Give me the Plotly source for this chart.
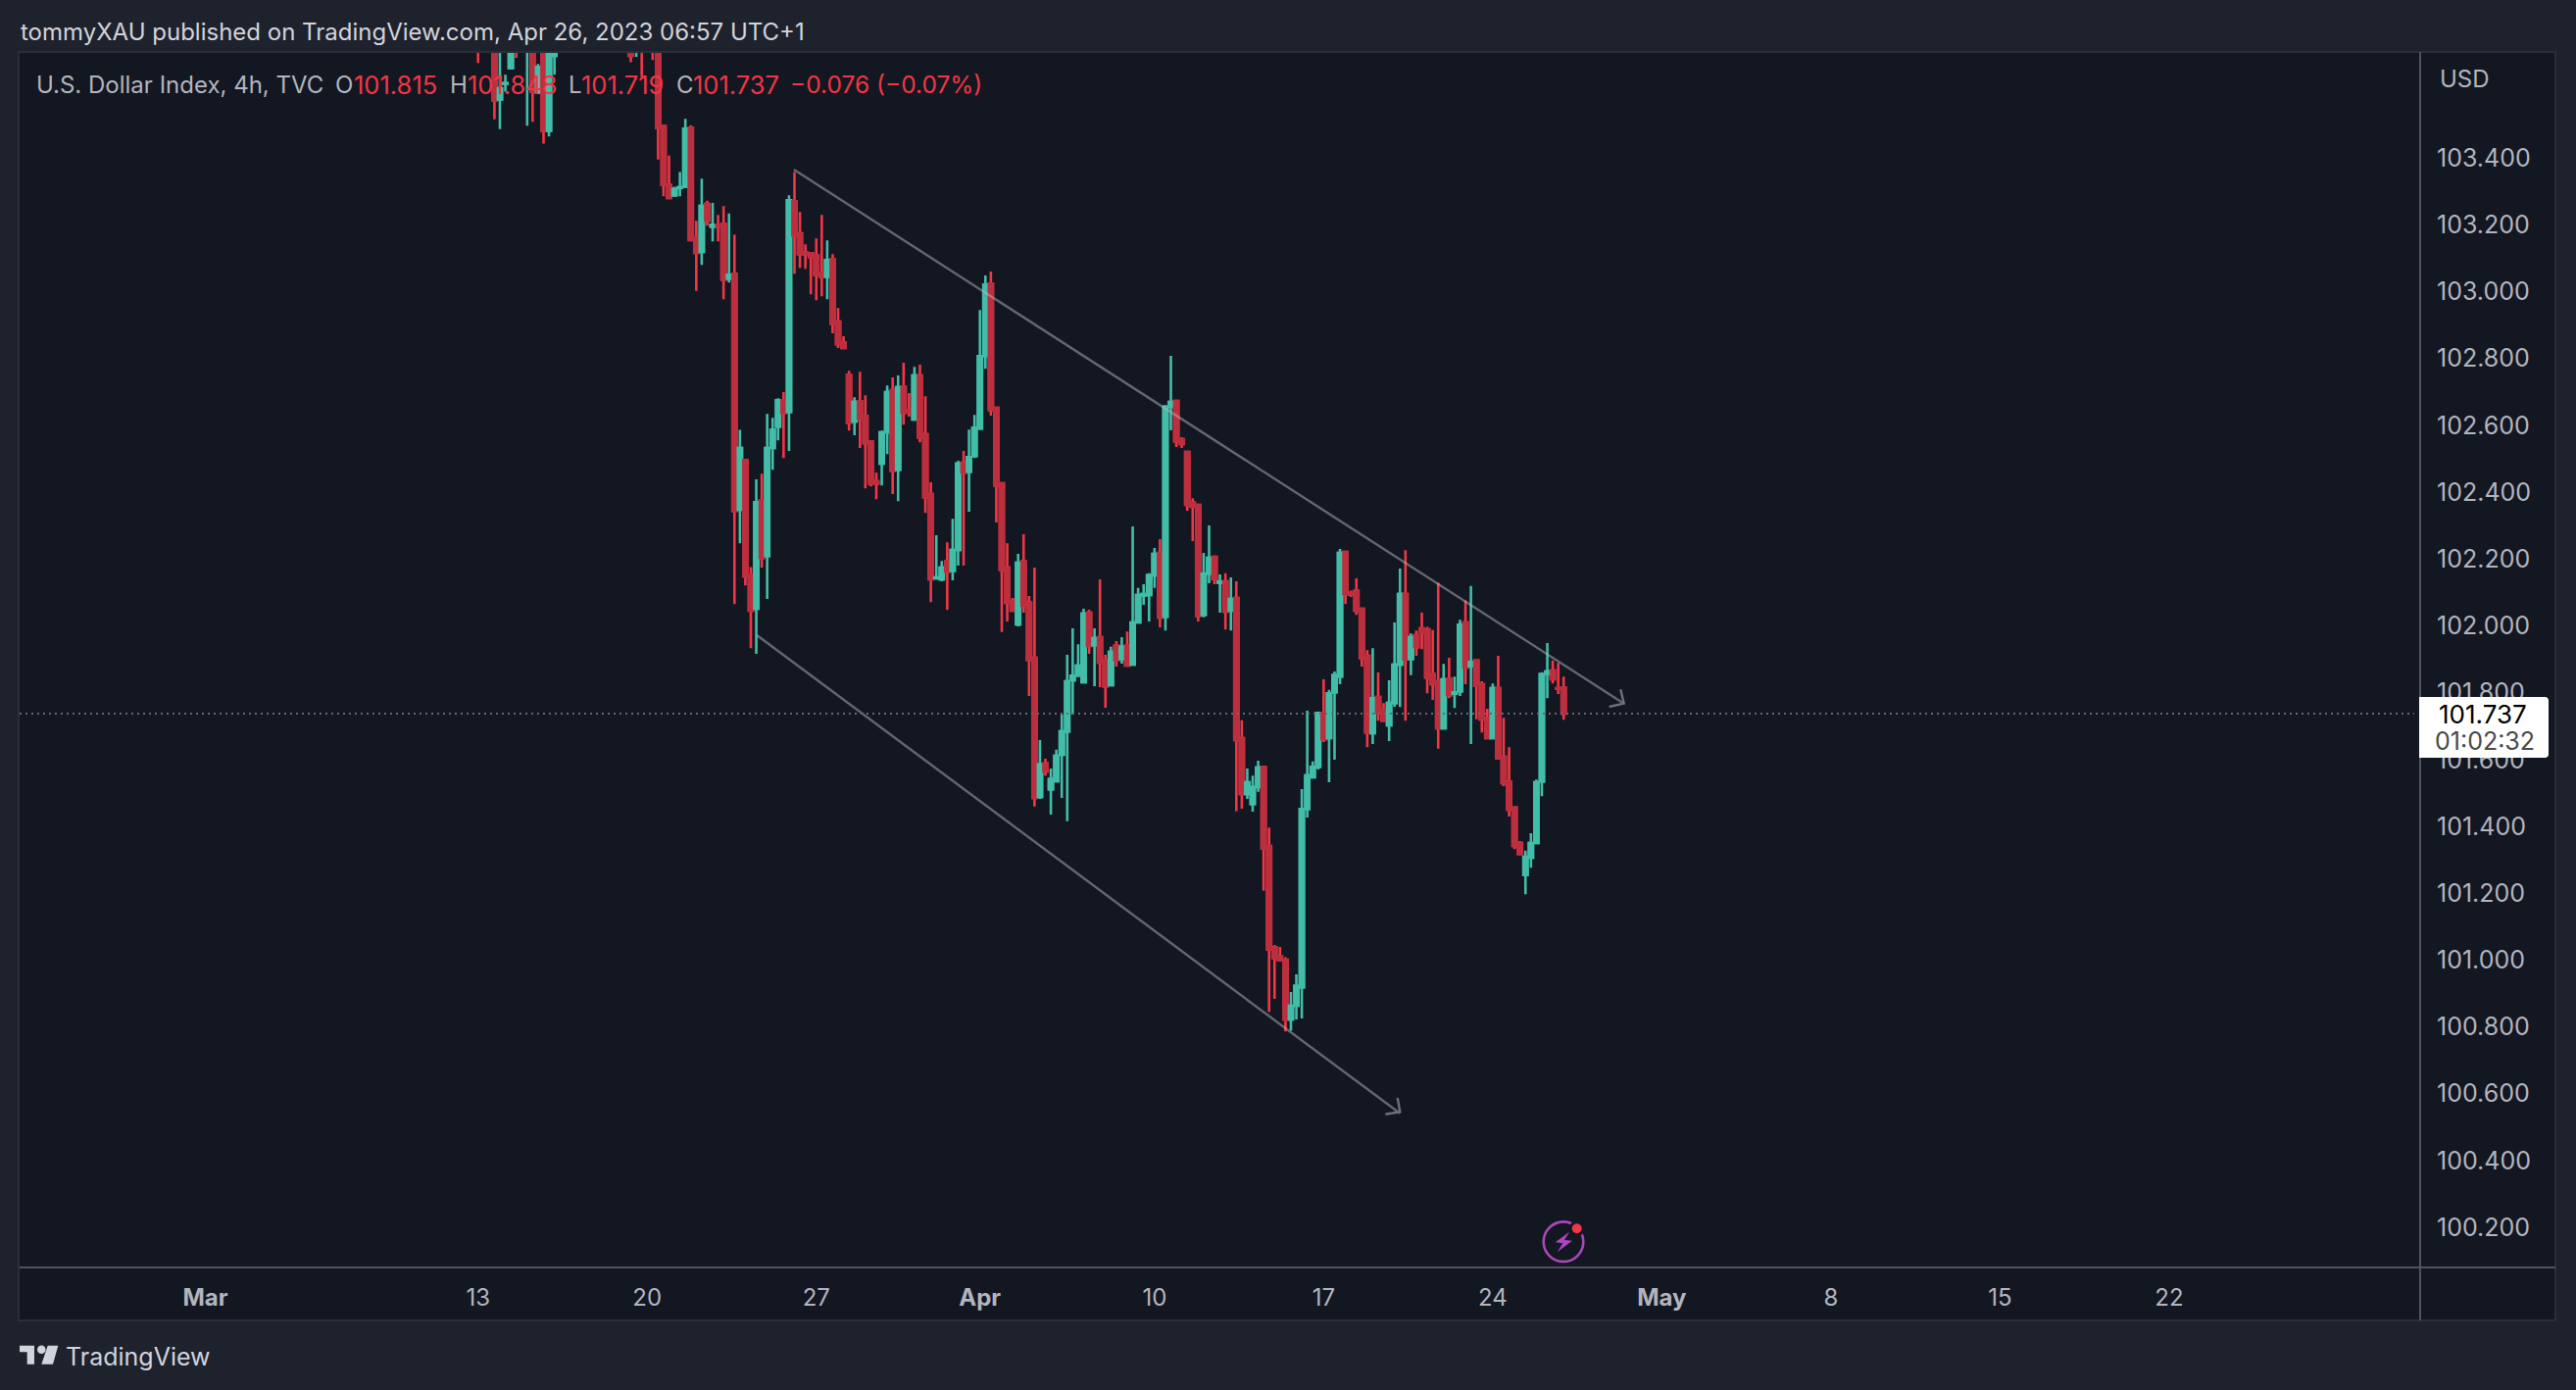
import plotly.graph_objects as go

# 4h bars, index 0 = first bar of Mar 13. None = bar is completely above the visible range
opens = [
    103.82, None, None, 103.78, 103.575, 103.622, 103.669, 103.80, None, 103.74,
    103.78, 103.596, 103.76, 103.481, 103.705, None, None, None, None, None,
    None, None, None, None, None, None, None, None, 103.73, 103.72,
    103.78, None, 103.80, 103.76, 103.495, 103.320, 103.288, 103.310, 103.314, 103.490,
    103.162, 103.119, 103.262, 103.194, 103.200, 103.202, 103.039, 103.053, 102.347, 102.496,
    102.153, 102.051, 102.376, 102.209, 102.532, 102.596, 102.675, 102.640, 103.270, 103.174,
    103.117, 103.115, 103.109, 103.056, 103.045, 103.097, 102.910, 102.848, 102.751, 102.611,
    102.672, 102.628, 102.552, 102.432, 102.485, 102.579, 102.705, 102.467, 102.716, 102.643,
    102.617, 102.749, 102.573, 102.394, 102.142, 102.139, 102.194, 102.165, 102.227, 102.488,
    102.461, 102.508, 102.590, 102.807, 103.024, 102.652, 102.426, 102.174, 102.074, 102.004,
    102.192, 102.069, 101.904, 101.488, 101.588, 101.511, 101.535, 101.614, 101.684, 101.837,
    101.851, 101.831, 102.039, 101.942, 101.966, 101.896, 101.822, 101.940, 101.901, 101.940,
    101.884, 102.010, 102.091, 102.092, 102.151, 102.218, 102.027, 102.655, 102.673, 102.558,
    102.520, 102.368, 102.362, 102.033, 102.156, 102.206, 102.129, 102.133, 102.045, 102.083,
    101.664, 101.497, 101.467, 101.517, 101.578, 101.341, 101.038, 101.010, 101.001, 100.822,
    100.863, 100.918, 101.452, 101.547, 101.578, 101.739, 101.664, 101.801, 101.848, 102.221,
    102.100, 102.104, 102.051, 101.910, 101.679, 101.787, 101.748, 101.702, 101.769, 101.884,
    102.095, 101.901, 101.972, 101.992, 101.989, 101.855, 101.834, 101.693, 101.842, 101.797,
    101.804, 102.010, 101.879, 101.896, 101.825, 101.723, 101.664, 101.813, 101.608, 101.534,
    101.456, 101.350, 101.254, 101.306, 101.350, 101.534, 101.855, 101.866, 101.813, 101.815,
]
highs = [
    103.85, None, None, 103.82, 103.74, 103.649, 103.76, 103.82, None, 103.82,
    103.80, 103.681, 103.79, 103.74, 103.73, None, None, None, None, None,
    None, None, None, None, None, None, None, None, 103.75, 103.75,
    103.80, None, 103.82, 103.78, 103.500, 103.407, 103.314, 103.358, 103.517, 103.498,
    103.212, 103.338, 103.272, 103.265, 103.229, 103.256, 103.234, 103.170, 102.586, 102.500,
    102.176, 102.438, 102.455, 102.634, 102.622, 102.681, 102.699, 103.288, 103.358, 103.238,
    103.141, 103.117, 103.159, 103.229, 103.153, 103.112, 102.951, 102.866, 102.763, 102.684,
    102.760, 102.690, 102.555, 102.458, 102.584, 102.719, 102.743, 102.749, 102.787, 102.696,
    102.775, 102.781, 102.687, 102.429, 102.271, 102.194, 102.250, 102.320, 102.494, 102.523,
    102.587, 102.631, 102.945, 103.048, 103.060, 102.652, 102.429, 102.247, 102.083, 102.215,
    102.274, 102.089, 102.174, 101.658, 101.602, 101.573, 101.629, 101.734, 101.913, 101.992,
    101.945, 102.051, 102.048, 101.992, 102.139, 101.913, 101.937, 101.954, 101.966, 101.983,
    102.297, 102.113, 102.124, 102.157, 102.233, 102.259, 102.661, 102.808, 102.673, 102.564,
    102.520, 102.382, 102.362, 102.218, 102.300, 102.206, 102.154, 102.157, 102.145, 102.133,
    101.717, 101.573, 101.552, 101.596, 101.578, 101.396, 101.045, 101.039, 101.008, 100.904,
    100.957, 101.511, 101.746, 101.594, 101.739, 101.840, 101.808, 101.863, 102.230, 102.221,
    102.105, 102.142, 102.054, 101.927, 101.933, 101.860, 101.769, 101.837, 102.010, 102.171,
    102.226, 101.977, 101.986, 102.039, 101.997, 101.987, 102.129, 101.886, 101.904, 101.848,
    102.018, 102.076, 102.119, 101.896, 101.834, 101.752, 101.827, 101.910, 101.725, 101.637,
    101.456, 101.356, 101.327, 101.379, 101.540, 101.861, 101.948, 101.896, 101.889, 101.848,
]
lows = [
    103.684, None, None, 103.515, 103.486, 103.598, 103.666, 103.699, None, 103.496,
    103.508, 103.596, 103.443, 103.464, 103.649, None, None, None, None, None,
    None, None, None, None, None, None, None, None, 103.686, 103.702,
    103.642, None, 103.693, 103.395, 103.285, 103.277, 103.283, 103.285, 103.312, 103.154,
    103.002, 103.080, 103.197, 103.150, 103.150, 102.977, 103.027, 102.065, 102.247, 102.121,
    101.933, 101.916, 102.174, 102.080, 102.467, 102.555, 102.502, 102.523, 103.053, 103.071,
    103.068, 102.992, 102.974, 102.986, 102.977, 102.875, 102.831, 102.831, 102.584, 102.570,
    102.532, 102.411, 102.417, 102.379, 102.420, 102.514, 102.394, 102.373, 102.602, 102.626,
    102.617, 102.549, 102.338, 102.071, 102.139, 102.133, 102.048, 102.136, 102.180, 102.180,
    102.341, 102.502, 102.590, 102.769, 102.629, 102.309, 101.981, 102.013, 102.045, 101.998,
    102.039, 101.790, 101.459, 101.482, 101.552, 101.435, 101.535, 101.485, 101.415, 101.734,
    101.851, 101.831, 101.916, 101.819, 101.816, 101.755, 101.819, 101.878, 101.887, 101.881,
    101.884, 102.010, 102.063, 102.013, 102.113, 101.995, 101.986, 102.585, 102.535, 102.532,
    102.344, 102.253, 102.013, 102.025, 102.127, 102.124, 102.039, 101.989, 101.986, 101.445,
    101.453, 101.482, 101.444, 101.503, 101.207, 100.845, 100.884, 100.995, 100.786, 100.788,
    100.822, 100.825, 101.426, 101.547, 101.570, 101.652, 101.532, 101.599, 101.825, 102.065,
    102.086, 102.033, 101.878, 101.637, 101.646, 101.716, 101.716, 101.655, 101.758, 101.757,
    101.716, 101.852, 101.910, 101.930, 101.798, 101.778, 101.632, 101.690, 101.783, 101.754,
    101.790, 101.825, 101.646, 101.720, 101.681, 101.661, 101.661, 101.603, 101.520, 101.429,
    101.332, 101.317, 101.197, 101.276, 101.350, 101.490, 101.783, 101.827, 101.796, 101.719,
]
closes = [
    103.74, None, None, 103.572, 103.608, 103.624, 103.74, 103.75, None, 103.80,
    103.598, 103.671, 103.481, 103.710, 103.712, None, None, None, None, None,
    None, None, None, None, None, None, None, None, 103.705, 103.74,
    103.75, None, 103.76, 103.490, 103.320, 103.280, 103.307, 103.312, 103.487, 103.154,
    103.116, 103.256, 103.212, 103.200, 103.198, 103.036, 103.050, 102.344, 102.532, 102.148,
    102.045, 102.370, 102.203, 102.532, 102.587, 102.675, 102.637, 103.273, 103.168, 103.112,
    103.112, 103.103, 103.050, 103.043, 103.094, 102.904, 102.842, 102.831, 102.608, 102.670,
    102.620, 102.546, 102.426, 102.426, 102.579, 102.699, 102.464, 102.714, 102.637, 102.640,
    102.749, 102.564, 102.385, 102.139, 102.145, 102.174, 102.162, 102.227, 102.485, 102.458,
    102.505, 102.593, 102.807, 103.021, 102.646, 102.420, 102.168, 102.069, 102.045, 102.189,
    102.060, 101.898, 101.485, 101.585, 101.564, 101.541, 101.611, 101.684, 101.834, 101.851,
    101.881, 102.036, 101.940, 101.963, 101.890, 101.819, 101.922, 101.898, 101.937, 101.881,
    102.010, 102.092, 102.095, 102.151, 102.215, 102.025, 102.655, 102.670, 102.552, 102.544,
    102.362, 102.356, 102.030, 102.156, 102.203, 102.139, 102.132, 102.042, 102.080, 101.658,
    101.497, 101.532, 101.517, 101.576, 101.333, 101.032, 101.006, 101.000, 100.822, 100.863,
    100.922, 101.452, 101.552, 101.578, 101.739, 101.660, 101.798, 101.852, 102.218, 102.095,
    102.094, 102.045, 101.904, 101.681, 101.783, 101.739, 101.716, 101.769, 101.884, 102.095,
    101.899, 101.966, 101.936, 101.981, 101.845, 101.825, 101.693, 101.840, 101.792, 101.801,
    102.003, 101.875, 101.892, 101.820, 101.720, 101.664, 101.813, 101.603, 101.529, 101.450,
    101.341, 101.317, 101.309, 101.350, 101.532, 101.855, 101.863, 101.840, 101.811, 101.737,
]

price_ticks = [100.2, 100.4, 100.6, 100.8, 101.0, 101.2, 101.4, 101.6, 101.8, 102.0,
               102.2, 102.4, 102.6, 102.8, 103.0, 103.2, 103.4]
date_ticks = [-50, 0, 31, 62, 92, 124, 155, 186, 217, 248, 279, 310]
date_labels = ["<b>Mar</b>", "13", "20", "27", "<b>Apr</b>", "10", "17", "24", "<b>May</b>", "8", "15", "22"]

# channel lines
upper_x = [57.9, 209.9]
upper_y = [103.365, 101.769]
lower_x = [51.1, 169.0]
lower_y = [101.972, 100.541]
last_price = 101.737

# page geometry, in screen pixels
W, H = 2628, 1418
L, R, T, B = 20, 2469, 54, 1293

OUTER = "#1E222D"
INNER = "#131722"
BORDER = "#2A2E39"
AXIS = "#50535E"
TEXT = "#B2B5BE"
RED = "#F23645"
RED_BODY = "#BD2F3E"
TEAL = "#42BDA8"
CHANNEL = "rgba(180,184,195,0.5)"
FONT = "Inter"


def px(x):
    return (x - L) / (R - L)


def py(y):
    return (B - y) / (B - T)


def poly(points, close=True):
    d = "M" + " L".join(f"{px(x):.5f},{py(y):.5f}" for x, y in points)
    return d + (" Z" if close else "")


def rect(x0, y0, x1, y1, **kw):
    return dict(type="rect", xref="paper", yref="paper", x0=px(x0), x1=px(x1), y0=py(y0), y1=py(y1), **kw)


def circle(cx, cy, r, **kw):
    return dict(type="circle", xref="paper", yref="paper",
                x0=px(cx - r), x1=px(cx + r), y0=py(cy + r), y1=py(cy - r), **kw)


def path(points, close=True, **kw):
    return dict(type="path", xref="paper", yref="paper", path=poly(points, close), **kw)


def hline(x0, x1, y, color, width=2):
    return dict(type="line", xref="paper", yref="paper", x0=px(x0), x1=px(x1), y0=py(y), y1=py(y),
                line=dict(color=color, width=width))


def vline(x, y0, y1, color, width=2):
    return dict(type="line", xref="paper", yref="paper", x0=px(x), x1=px(x), y0=py(y0), y1=py(y1),
                line=dict(color=color, width=width))


def label(x, y, text, color=TEXT, size=24, anchor="left"):
    return dict(xref="paper", yref="paper", x=px(x), y=py(y), text=text, showarrow=False,
                xanchor=anchor, yanchor="middle", borderpad=0,
                font=dict(family=FONT, size=size, color=color))


bars = list(range(len(closes)))
body_tops = [None if o is None else max(o, c) for o, c in zip(opens, closes)]
body_bottoms = [None if o is None else min(o, c) for o, c in zip(opens, closes)]

fig = go.Figure()

# wicks in the bright colours
fig.add_trace(go.Candlestick(
    x=bars, open=opens, high=highs, low=lows, close=closes, whiskerwidth=0,
    increasing=dict(line=dict(color=TEAL, width=2.6), fillcolor=TEAL),
    decreasing=dict(line=dict(color=RED, width=2.6), fillcolor=RED),
    hoverinfo="skip", showlegend=False))

# bodies on top, red ones are duller than their wicks
fig.add_trace(go.Candlestick(
    x=bars, open=opens, high=body_tops, low=body_bottoms, close=closes, whiskerwidth=0,
    increasing=dict(line=dict(color=TEAL, width=2.6), fillcolor=TEAL),
    decreasing=dict(line=dict(color=RED_BODY, width=2.6), fillcolor=RED_BODY),
    hoverinfo="skip", showlegend=False))

for xs, ys in [(upper_x, upper_y), (lower_x, lower_y)]:
    fig.add_trace(go.Scatter(x=xs, y=ys, mode="lines", line=dict(color=CHANNEL, width=2.4),
                             hoverinfo="skip", showlegend=False))

shapes = [
    rect(19, 53, 2607, 1347, fillcolor=INNER, line=dict(color=BORDER, width=2), layer="below"),
    dict(type="line", xref="paper", yref="y", x0=0, x1=px(2463), y0=last_price, y1=last_price,
         line=dict(color="#656873", width=2, dash="2px,4px")),
    vline(R, 53, 1347, AXIS),
    hline(L, 2607, B, AXIS),
    # arrow heads
    path([(1653.3, 703.3), (1656.7, 717.7), (1641.7, 721)], close=False, line=dict(color="#6E717C", width=2.4)),
    path([(1425.7, 1120), (1428.3, 1134.3), (1413.3, 1136.7)], close=False, line=dict(color="#6E717C", width=2.4)),
    # last price tag
    dict(type="path", xref="paper", yref="paper", fillcolor="#FFFFFF", line=dict(width=0),
         path=(f"M{px(2468):.5f},{py(711):.5f} L{px(2596):.5f},{py(711):.5f} "
               f"Q{px(2600):.5f},{py(711):.5f} {px(2600):.5f},{py(715):.5f} "
               f"L{px(2600):.5f},{py(769):.5f} Q{px(2600):.5f},{py(773):.5f} {px(2596):.5f},{py(773):.5f} "
               f"L{px(2468):.5f},{py(773):.5f} Z")),
    # news icon
    circle(1595, 1266.7, 20.3, line=dict(color="#AB47BC", width=2.6)),
    circle(1608.7, 1253.3, 8, fillcolor=INNER, line=dict(width=0)),
    circle(1608.7, 1253.3, 5, fillcolor=RED, line=dict(width=0)),
    path([(1601, 1256.7), (1586.7, 1267.3), (1594.3, 1268.3), (1588.7, 1277.3), (1604, 1265.7), (1596, 1265)],
         fillcolor="#AB47BC", line=dict(width=0)),
    # logo
    path([(20, 1372.7), (35, 1372.7), (35, 1391.7), (27.7, 1391.7), (27.7, 1379.3), (20, 1379.3)],
         fillcolor="#D1D4DC", line=dict(width=0)),
    circle(42.3, 1376.7, 4.3, fillcolor="#D1D4DC", line=dict(width=0)),
    path([(59.3, 1372.7), (48.7, 1372.7), (42.3, 1391.7), (54, 1391.7)], fillcolor="#D1D4DC", line=dict(width=0)),
]

annotations = [
    label(20, 32, "tommyXAU published on TradingView.com, Apr 26, 2023 06:57 UTC+1", color="#D1D4DC"),
    label(36, 86, "U.S. Dollar Index, 4h, TVC"),
    label(341, 86, "O"),
    label(360, 86, "101.815", color=RED, size=25.5),
    label(458, 86, "H"),
    label(476, 86, "101.848", color=RED, size=25.5),
    label(579, 86, "L"),
    label(592, 86, "101.719", color=RED, size=25.5),
    label(689, 86, "C"),
    label(706, 86, "101.737", color=RED, size=25.5),
    label(805, 86, "−0.076 (−0.07%)", color=RED, size=24.5),
    label(2488, 80.7, "USD"),
    label(2533, 728, "101.737", color="#000000", size=26, anchor="center"),
    label(2535, 756, "01:02:32", color="#4A4A4A", size=25, anchor="center"),
    label(66, 1384, "TradingView", color="#D1D4DC", size=25),
]

fig.update_layout(
    width=W, height=H, autosize=False,
    margin=dict(l=L, r=W - R, t=T, b=H - B, pad=0),
    paper_bgcolor=OUTER, plot_bgcolor=INNER,
    font=dict(family=FONT, size=24, color=TEXT),
    showlegend=False, shapes=shapes, annotations=annotations,
    boxmode="overlay", boxgap=0.25, boxgroupgap=0,
    xaxis=dict(range=[-84.04, 356.0], rangeslider=dict(visible=False), tickmode="array",
               tickvals=date_ticks, ticktext=date_labels, showgrid=False, zeroline=False, showline=False,
               ticks="outside", ticklen=9, tickcolor="rgba(0,0,0,0)", tickfont=dict(family=FONT, size=24, color=TEXT)),
    yaxis=dict(range=[100.080, 103.714], side="right", tickmode="array", tickvals=price_ticks,
               tickformat=".3f", showgrid=False, zeroline=False, showline=False,
               ticks="outside", ticklen=11, tickcolor="rgba(0,0,0,0)", tickfont=dict(family=FONT, size=25, color=TEXT)),
)

fig.write_html("out.html", config={"displayModeBar": False},
               post_script="document.body.style.margin='0';document.body.style.overflow='hidden';")
